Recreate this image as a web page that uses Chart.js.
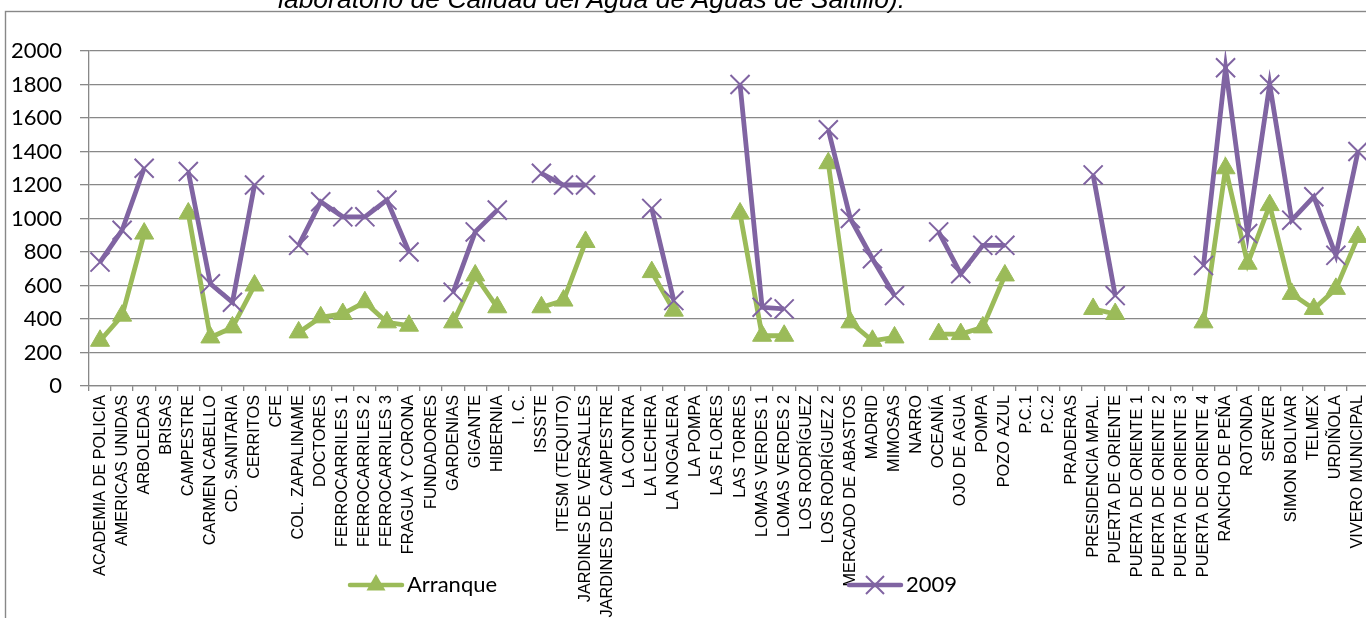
<!DOCTYPE html>
<html lang="es">
<head>
<meta charset="utf-8">
<title>Arranque y 2009 por pozo</title>
<script src="https://cdn.jsdelivr.net/npm/chart.js@4.4.1/dist/chart.umd.min.js"></script>
<style>
  html, body { margin: 0; padding: 0; overflow: hidden; background: #fff; width: 1366px; height: 618px; }
  #wrap { position: absolute; left: 0; top: 0; width: 1392px; height: 618px; }
  #caption {
    position: absolute; left: 278px; top: -14px; margin: 0;
    font-family: "Liberation Sans", Arial, sans-serif; font-style: italic;
    font-size: 26.5px; line-height: 26px; color: #000; white-space: nowrap;
  }
</style>
</head>
<body>
<div id="wrap">
  <canvas id="chart" width="1392" height="618"></canvas>
</div>
<p id="caption">laboratorio de Calidad del Agua de Aguas de Saltillo).</p>
<script>
// Pozos (categorías del eje X)
const pozos = [
  "ACADEMIA DE POLICIA", "AMERICAS UNIDAS", "ARBOLEDAS", "BRISAS", "CAMPESTRE",
  "CARMEN CABELLO", "CD. SANITARIA", "CERRITOS", "CFE", "COL. ZAPALINAME",
  "DOCTORES", "FERROCARRILES 1", "FERROCARRILES 2", "FERROCARRILES 3", "FRAGUA Y CORONA",
  "FUNDADORES", "GARDENIAS", "GIGANTE", "HIBERNIA", "I. C.",
  "ISSSTE", "ITESM (TEQUITO)", "JARDINES DE VERSALLES", "JARDINES DEL CAMPESTRE", "LA CONTRA",
  "LA LECHERA", "LA NOGALERA", "LA POMPA", "LAS FLORES", "LAS TORRES",
  "LOMAS VERDES 1", "LOMAS VERDES 2", "LOS RODRÍGUEZ", "LOS RODRÍGUEZ 2", "MERCADO DE ABASTOS",
  "MADRID", "MIMOSAS", "NARRO", "OCEANÍA", "OJO DE AGUA",
  "POMPA", "POZO AZUL", "P.C.1", "P.C.2", "PRADERAS",
  "PRESIDENCIA MPAL.", "PUERTA DE ORIENTE", "PUERTA DE ORIENTE 1", "PUERTA DE ORIENTE 2", "PUERTA DE ORIENTE 3",
  "PUERTA DE ORIENTE 4", "RANCHO DE PEÑA", "ROTONDA", "SERVER", "SIMON BOLIVAR",
  "TELMEX", "URDIÑOLA", "VIVERO MUNICIPAL"
];

// Valores al arranque del pozo
const arranque = [
  270, 420, 910, null, 1030,
  290, 350, 600, null, 320,
  410, 430, 500, 380, 360,
  null, 380, 660, 470, null,
  470, 510, 860, null, null,
  680, 450, null, null, 1030,
  300, 300, null, 1330, 380,
  270, 290, null, 310, 310,
  350, 660, null, null, null,
  460, 430, null, null, null,
  380, 1300, 730, 1080, 550,
  460, 580, 890
];

// Valores registrados en 2009
const anio2009 = [
  740, 930, 1300, null, 1280,
  610, 500, 1200, null, 840,
  1100, 1010, 1010, 1110, 800,
  null, 560, 920, 1050, null,
  1270, 1200, 1200, null, null,
  1060, 510, null, null, 1800,
  470, 460, null, 1530, 1000,
  760, 540, null, 920, 670,
  840, 840, null, null, null,
  1260, 540, null, null, null,
  720, 1900, 910, 1800, 990,
  1130, 780, 1400
];

// Marcas del eje Y
const yTicks = [0, 200, 400, 600, 800, 1000, 1200, 1400, 1600, 1800, 2000];

const VERDE = "#9BBB59";
const MORADO = "#8064A2";
const GRIS = "#888888";

// Marco exterior del gráfico
const marco = {
  id: "marco",
  beforeDraw(chart) {
    const ctx = chart.ctx;
    ctx.save();
    ctx.strokeStyle = GRIS;
    ctx.lineWidth = 1.4;
    ctx.strokeRect(5.5, 11.5, 1600, 800);
    ctx.restore();
  }
};

// Leyenda: línea con marcador y texto, dibujada sobre la zona de etiquetas
const leyenda = {
  id: "leyenda",
  afterDraw(chart) {
    const ctx = chart.ctx;
    const items = [
      { x0: 348, text: "Arranque", color: VERDE, style: "triangle" },
      { x0: 847, text: "2009", color: MORADO, style: "crossRot" }
    ];
    const y = 585;
    ctx.save();
    items.forEach(it => {
      ctx.strokeStyle = it.color;
      ctx.fillStyle = it.color;
      ctx.lineWidth = 4.5;
      ctx.lineCap = "round";
      ctx.beginPath();
      ctx.moveTo(it.x0 + 2, y);
      ctx.lineTo(it.x0 + 54, y);
      ctx.stroke();
      const cx = it.x0 + 28;
      if (it.style === "triangle") {
        ctx.beginPath();
        ctx.moveTo(cx, y - 11);
        ctx.lineTo(cx + 9.5, y + 5.5);
        ctx.lineTo(cx - 9.5, y + 5.5);
        ctx.closePath();
        ctx.fill();
      } else {
        ctx.lineWidth = 2;
        ctx.lineCap = "butt";
        ctx.beginPath();
        ctx.moveTo(cx - 9, y - 9);
        ctx.lineTo(cx + 9, y + 9);
        ctx.moveTo(cx + 9, y - 9);
        ctx.lineTo(cx - 9, y + 9);
        ctx.stroke();
      }
      ctx.fillStyle = "#000";
      ctx.font = "22px Lato, 'Open Sans', sans-serif";
      ctx.textBaseline = "middle";
      ctx.textAlign = "left";
      ctx.fillText(it.text, it.x0 + 59, y);
    });
    ctx.restore();
  }
};

new Chart(document.getElementById("chart"), {
  type: "line",
  data: {
    labels: pozos,
    datasets: [
      {
        label: "Arranque",
        data: arranque,
        order: 1,
        borderColor: VERDE,
        backgroundColor: VERDE,
        borderWidth: 4.8,
        pointStyle: "triangle",
        pointRadius: 11,
        pointBorderWidth: 1,
        pointBackgroundColor: VERDE,
        pointBorderColor: VERDE,
        spanGaps: false,
        tension: 0
      },
      {
        label: "2009",
        data: anio2009,
        order: 0,
        borderColor: MORADO,
        backgroundColor: MORADO,
        borderWidth: 4.8,
        pointStyle: "crossRot",
        pointRadius: 13.5,
        pointBorderWidth: 2,
        pointBorderColor: MORADO,
        spanGaps: false,
        tension: 0
      }
    ]
  },
  options: {
    responsive: false,
    devicePixelRatio: 1,
    animation: false,
    events: [],
    layout: { padding: { top: 51, left: 0, right: 23, bottom: 0 } },
    plugins: {
      legend: { display: false },
      title: { display: false },
      tooltip: { enabled: false }
    },
    scales: {
      x: {
        type: "category",
        offset: true,
        afterFit(scale) { scale.height = 232; },
        grid: {
          display: true,
          offset: true,
          drawOnChartArea: false,
          drawTicks: true,
          tickLength: 5,
          color: GRIS,
          lineWidth: 1.3
        },
        border: { display: true, color: GRIS, width: 1.3 },
        ticks: {
          autoSkip: false,
          minRotation: 90,
          maxRotation: 90,
          padding: 4,
          color: "#000",
          font: { family: "'Liberation Sans', Arial, sans-serif", size: 16.3 }
        }
      },
      y: {
        min: 0,
        max: 2000,
        afterFit(scale) { scale.width = 89; },
        afterBuildTicks(scale) { scale.ticks = yTicks.map(v => ({ value: v })); },
        grid: {
          color: GRIS,
          lineWidth: 1.3,
          drawTicks: true,
          tickLength: 9
        },
        border: { display: true, color: GRIS, width: 1.3 },
        ticks: {
          padding: 18,
          color: "#000",
          font: { family: "Lato, 'Open Sans', sans-serif", size: 22 },
          callback: v => String(v)
        }
      }
    }
  },
  plugins: [marco, leyenda]
});
</script>
</body>
</html>
